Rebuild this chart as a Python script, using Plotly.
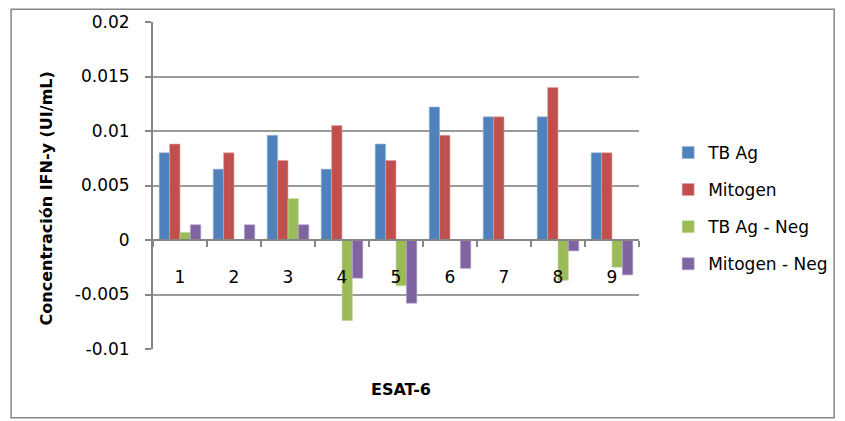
import plotly.graph_objects as go

categories = ["1", "2", "3", "4", "5", "6", "7", "8", "9"]
tb_ag = [0.0080, 0.0065, 0.0096, 0.0065, 0.0088, 0.0122, 0.0113, 0.0113, 0.0080]
mitogen = [0.0088, 0.0080, 0.0073, 0.0105, 0.0073, 0.0096, 0.0113, 0.0140, 0.0080]
tb_ag_neg = [0.0007, 0.0, 0.0038, -0.0074, -0.0042, 0.0, 0.0, -0.0037, -0.0025]
mitogen_neg = [0.0014, 0.0014, 0.0014, -0.0035, -0.0058, -0.0026, 0.0, -0.0010, -0.0032]

series_names = ["TB Ag", "Mitogen", "TB Ag - Neg", "Mitogen - Neg"]
series_values = [tb_ag, mitogen, tb_ag_neg, mitogen_neg]
colors = ["#4F81BD", "#C0504D", "#9BBB59", "#8064A2"]
edge_colors = ["#9DB7DC", "#E0A3A1", "#C6DBA3", "#B3A3CB"]

y_range = [-0.01, 0.02]
y_tickvals = [-0.01, -0.005, 0, 0.005, 0.01, 0.015, 0.02]
y_ticktext = ["-0.01", "-0.005", "0", "0.005", "0.01", "0.015", "0.02"]

FONT = "DejaVu Sans"
AXIS_COLOR = "#868686"
GRID_COLOR = "#9A9A9A"

fig = go.Figure()
for i, (name, vals) in enumerate(zip(series_names, series_values)):
    fig.add_trace(go.Bar(
        x=categories, y=vals, name=name,
        marker=dict(color=colors[i], line=dict(color=edge_colors[i], width=0.6)),
        legendgroup=name,
    ))

zero_pos = (0 - y_range[0]) / (y_range[1] - y_range[0])

fig.update_layout(
    width=845, height=421,
    margin=dict(l=153, r=199, t=16, b=72),
    paper_bgcolor="white", plot_bgcolor="white",
    barmode="group", bargap=0.23, bargroupgap=0,
    font=dict(family=FONT, size=16, color="#000000"),
    showlegend=True,
    legend=dict(
        x=1.06, y=0.43, xanchor="left", yanchor="middle",
        font=dict(family=FONT, size=17, color="#000000"),
        traceorder="grouped", tracegroupgap=12,
        itemwidth=30,
    ),
    xaxis=dict(
        type="category",
        anchor="free", position=zero_pos,
        showline=True, linecolor=AXIS_COLOR, linewidth=2,
        ticks="outside", tickson="boundaries", ticklen=6, tickcolor=AXIS_COLOR, tickwidth=1.5,
        tickfont=dict(family=FONT, size=17, color="#000000"),
        ticklabelstandoff=22,
        showgrid=False, zeroline=False,
    ),
    yaxis=dict(
        range=y_range,
        tickvals=y_tickvals, ticktext=y_ticktext,
        showline=True, linecolor=AXIS_COLOR, linewidth=2,
        ticks="outside", ticklen=6, tickcolor=AXIS_COLOR, tickwidth=1.5,
        tickfont=dict(family=FONT, size=17, color="#000000"),
        ticklabelstandoff=12,
        showgrid=True, gridcolor=GRID_COLOR, gridwidth=1.5,
        zeroline=False,
    ),
    annotations=[
        dict(
            text="<b>ESAT-6</b>", xref="paper", yref="paper",
            x=0.511, y=-0.123, xanchor="center", yanchor="middle", showarrow=False,
            font=dict(family=FONT, size=16, color="#000000"),
        ),
        dict(
            text="<b>Concentración IFN-y (UI/mL)</b>", xref="paper", yref="paper",
            x=-0.219, y=0.459, xanchor="center", yanchor="middle", showarrow=False,
            textangle=-90,
            font=dict(family=FONT, size=16, color="#000000"),
        ),
    ],
    shapes=[dict(
        type="rect", xref="paper", yref="paper",
        x0=-0.292, x1=1.4016, y0=-0.21, y1=1.039,
        line=dict(color=AXIS_COLOR, width=1.5), fillcolor="rgba(0,0,0,0)", layer="below",
    )],
)

fig.write_html("out.html")
